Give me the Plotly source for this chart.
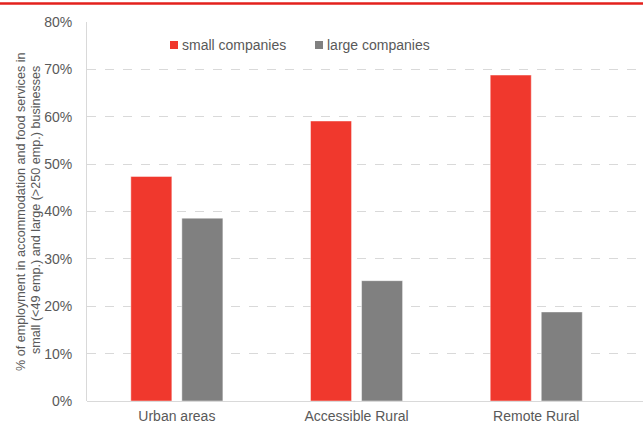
import plotly.graph_objects as go

categories = ["Urban areas", "Accessible Rural", "Remote Rural"]
small_companies = [0.474, 0.591, 0.688]
large_companies = [0.386, 0.254, 0.188]
y_ticks = [0, 0.1, 0.2, 0.3, 0.4, 0.5, 0.6, 0.7, 0.8]
y_tick_labels = ["0%", "10%", "20%", "30%", "40%", "50%", "60%", "70%", "80%"]
series_names = ["small companies", "large companies"]
series_colors = ["#F0382D", "#808080"]

W, H = 643, 423
ml, mr, mt, mb = 87, 0, 22, 22
PW, PH = W - ml - mr, H - mt - mb


def px(x):
    return (x - ml) / PW


def py(y):
    return (H - mb - y) / PH


fig = go.Figure()
for name, vals, col in zip(series_names, [small_companies, large_companies], series_colors):
    fig.add_trace(go.Bar(
        x=categories, y=vals, name=name, showlegend=False,
        marker=dict(color=col, line=dict(color="rgba(255,255,255,0.45)", width=1)),
    ))

font = "Liberation Sans, Arial, sans-serif"
txt = "#595959"
fig.update_layout(
    width=W, height=H,
    margin=dict(l=ml, r=mr, t=mt, b=mb, autoexpand=False),
    paper_bgcolor="white", plot_bgcolor="white",
    barmode="group", bargap=0.432, bargroupgap=0.196,
    font=dict(family=font, size=14, color=txt),
    xaxis=dict(
        range=[-0.5, 2.594], showgrid=False, zeroline=False,
        showline=False, ticks="outside", ticklen=0, ticklabelstandoff=2,
        tickfont=dict(size=14, color=txt),
    ),
    yaxis=dict(
        range=[0, 0.8], tickvals=y_ticks, ticktext=y_tick_labels,
        showgrid=True, gridcolor="#D9D9D9", griddash="dash", gridwidth=1,
        zeroline=True, zerolinecolor="#D9D9D9", zerolinewidth=1,
        showline=True, linecolor="#D9D9D9", linewidth=1,
        ticks="outside", ticklen=0, ticklabelstandoff=11,
        tickfont=dict(size=14, color=txt),
    ),
)

# y-axis title, two lines
fig.add_annotation(
    xref="paper", yref="paper", x=px(21), y=py(212),
    text="% of employment in accommodation and food services in",
    textangle=-90, showarrow=False, xanchor="center", yanchor="middle",
    font=dict(family=font, size=12.6, color=txt),
)
fig.add_annotation(
    xref="paper", yref="paper", x=px(36), y=py(210),
    text="small (&lt;49 emp.) and large (&gt;250 emp.) businesses",
    textangle=-90, showarrow=False, xanchor="center", yanchor="middle",
    font=dict(family=font, size=12.6, color=txt),
)

# legend
legend_x = [170, 315]
for lx, name, col in zip(legend_x, series_names, series_colors):
    fig.add_shape(type="rect", xref="paper", yref="paper",
                  x0=px(lx), x1=px(lx + 8), y0=py(49), y1=py(41),
                  fillcolor=col, line=dict(width=0))
    fig.add_annotation(xref="paper", yref="paper", x=px(lx + 10), y=py(45),
                       text=name, showarrow=False, xanchor="left", yanchor="middle",
                       font=dict(family=font, size=14, color=txt))

# top red rule
fig.add_shape(type="line", xref="paper", yref="paper",
              x0=px(0), x1=1, y0=py(3.5), y1=py(3.5),
              line=dict(color="#E3211D", width=2.5))

fig.write_html("out.html", config={"displayModeBar": False},
               post_script="document.body.style.margin='0';")
